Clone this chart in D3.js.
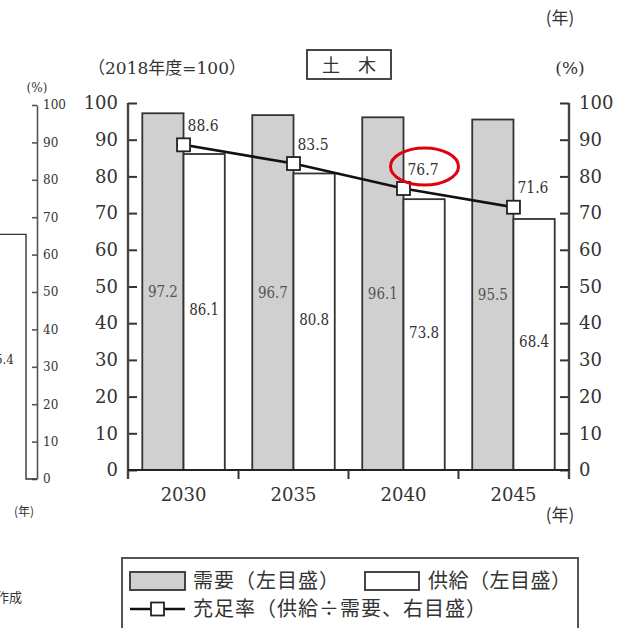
<!DOCTYPE html>
<html>
<head>
<meta charset="utf-8">
<script src="https://cdn.jsdelivr.net/npm/d3@7/dist/d3.min.js"></script>
<style>
  html, body { margin: 0; padding: 0; background: #fff; }
  svg { display: block; }
</style>
</head>
<body>
<svg id="chart" width="633" height="628"></svg>
<script>
// 土木: demand / supply index (2018年度=100) and sufficiency ratio
const years = ["2030", "2035", "2040", "2045"];
const demand = [97.2, 96.7, 96.1, 95.5];   // 需要（左目盛）
const supply = [86.1, 80.8, 73.8, 68.4];   // 供給（左目盛）
const ratio = [88.6, 83.5, 76.7, 71.6];    // 充足率（右目盛）
const yTicks = [0, 10, 20, 30, 40, 50, 60, 70, 80, 90, 100];

// neighbouring panel (only its right edge shows)
const prevPanelTicks = [0, 10, 20, 30, 40, 50, 60, 70, 80, 90, 100];
const prevPanelBar = 65.4;

const SERIF = "'DejaVu Serif', 'Liberation Serif', serif";
const JP = "'Noto Sans CJK JP', 'Noto Sans', sans-serif";
const MIX = "'DejaVu Serif', 'Noto Sans CJK JP', serif";

const svg = d3.select("#chart");
const ink = "#333";

function num(sel, size) {
  return sel.style("font-family", SERIF).style("font-size", size + "px").attr("fill", ink);
}
function jp(sel, size, fam) {
  return sel.style("font-family", fam || JP).style("font-size", size + "px").attr("fill", ink);
}

// ---------- neighbouring panel edge ----------
const yP = d3.scaleLinear().domain([0, 100]).range([479, 105]);
const pAxis = svg.append("g").attr("transform", "translate(37,0)")
  .call(d3.axisRight(yP).tickValues(prevPanelTicks).tickSizeInner(-5).tickSizeOuter(0).tickPadding(6));
pAxis.attr("font-family", null);
pAxis.select(".domain").attr("stroke", "#555").attr("stroke-width", 1.6);
pAxis.selectAll(".tick line").attr("stroke", "#555").attr("stroke-width", 1.6);
num(pAxis.selectAll("text"), 12);
svg.append("path")
  .attr("d", `M-5,${yP(prevPanelBar)}H26V${yP(0)}H37`)
  .attr("fill", "none").attr("stroke", "#333").attr("stroke-width", 1.4);
num(svg.append("text").attr("x", 14).attr("y", 364).attr("text-anchor", "end"), 12)
  .text(prevPanelBar.toFixed(1));
jp(svg.append("text").attr("x", 37).attr("y", 92).attr("text-anchor", "middle"), 12, MIX).text("(%)");
jp(svg.append("text").attr("x", 24).attr("y", 516).attr("text-anchor", "middle"), 12).text("(年)");
jp(svg.append("text").attr("x", 22).attr("y", 602).attr("text-anchor", "end"), 13).text("作成");

// ---------- main panel ----------
const x0 = 128, x1 = 569;
const x = d3.scaleBand().domain(years).range([x0, x1]).paddingInner(0.25).paddingOuter(0.13);
const xs = d3.scaleBand().domain(["demand", "supply"]).range([0, x.bandwidth()]);
const y = d3.scaleLinear().domain([0, 100]).range([470, 103]);
const yR = d3.scaleLinear().domain([0, 100]).range([470, 103]);

const rows = years.map((yr, i) => ({ yr, demand: demand[i], supply: supply[i], ratio: ratio[i] }));

// bars
const grp = svg.append("g");
rows.forEach(d => {
  grp.append("rect")
    .attr("x", x(d.yr) + xs("demand")).attr("y", y(d.demand))
    .attr("width", xs.bandwidth()).attr("height", y(0) - y(d.demand))
    .attr("fill", "#d0d0d0").attr("stroke", ink).attr("stroke-width", 1.8);
  grp.append("rect")
    .attr("x", x(d.yr) + xs("supply")).attr("y", y(d.supply))
    .attr("width", xs.bandwidth()).attr("height", y(0) - y(d.supply))
    .attr("fill", "#fff").attr("stroke", ink).attr("stroke-width", 1.8);
  num(grp.append("text")
    .attr("x", x(d.yr) + xs("demand") + xs.bandwidth() / 2)
    .attr("y", (y(d.demand) + y(0)) / 2 + 5)
    .attr("text-anchor", "middle")
    .attr("textLength", 30).attr("lengthAdjust", "spacingAndGlyphs"), 16)
    .attr("fill", "#555")
    .text(d.demand.toFixed(1));
  num(grp.append("text")
    .attr("x", x(d.yr) + xs("supply") + xs.bandwidth() / 2)
    .attr("y", (y(d.supply) + y(0)) / 2 + 3)
    .attr("text-anchor", "middle")
    .attr("textLength", 30).attr("lengthAdjust", "spacingAndGlyphs"), 16)
    .text(d.supply.toFixed(1));
});

// left axis
const lAxis = svg.append("g").attr("transform", `translate(${x0},0)`)
  .call(d3.axisLeft(y).tickValues(yTicks).tickSizeInner(-9).tickSizeOuter(0).tickPadding(10));
lAxis.attr("font-family", null);
lAxis.select(".domain").remove();
lAxis.selectAll(".tick line").attr("stroke", ink).attr("stroke-width", 2);
num(lAxis.selectAll("text"), 18);

// right axis
const rAxis = svg.append("g").attr("transform", `translate(${x1},0)`)
  .call(d3.axisRight(yR).tickValues(yTicks).tickSizeInner(-9).tickSizeOuter(0).tickPadding(10));
rAxis.attr("font-family", null);
rAxis.select(".domain").remove();
rAxis.selectAll(".tick line").attr("stroke", ink).attr("stroke-width", 2);
num(rAxis.selectAll("text"), 18);

// axis lines
svg.append("line").attr("x1", x0).attr("x2", x0).attr("y1", y(100)).attr("y2", y(0) + 9)
  .attr("stroke", "#444").attr("stroke-width", 2.4);
svg.append("line").attr("x1", x1).attr("x2", x1).attr("y1", yR(100)).attr("y2", yR(0) + 9)
  .attr("stroke", "#444").attr("stroke-width", 2.4);
svg.append("line").attr("x1", x0).attr("x2", x1).attr("y1", y(0)).attr("y2", y(0))
  .attr("stroke", "#222").attr("stroke-width", 2.2);

// category separators on the x axis
const gap = x.step() - x.bandwidth();
years.slice(0, -1).forEach(yr => {
  const sx = x(yr) + x.bandwidth() + gap / 2;
  svg.append("line").attr("x1", sx).attr("x2", sx).attr("y1", y(0)).attr("y2", y(0) + 9)
    .attr("stroke", ink).attr("stroke-width", 2);
});

// x labels
years.forEach(yr => {
  num(svg.append("text")
    .attr("x", x(yr) + x.bandwidth() / 2).attr("y", 501)
    .attr("text-anchor", "middle"), 18).text(yr);
});

// sufficiency ratio line
const cx = d => x(d.yr) + x.bandwidth() / 2;
svg.append("path").datum(rows)
  .attr("d", d3.line().x(cx).y(d => yR(d.ratio)))
  .attr("fill", "none").attr("stroke", "#111").attr("stroke-width", 2.6);
rows.forEach(d => {
  svg.append("rect")
    .attr("x", cx(d) - 6.5).attr("y", yR(d.ratio) - 6.5)
    .attr("width", 13).attr("height", 13)
    .attr("fill", "#fff").attr("stroke", "#222").attr("stroke-width", 1.8);
  num(svg.append("text")
    .attr("x", cx(d) + 4).attr("y", yR(d.ratio) - 14)
    .attr("textLength", 31).attr("lengthAdjust", "spacingAndGlyphs"), 16)
    .text(d.ratio.toFixed(1));
});

// highlight on the 2040 ratio label
const hl = rows[2];
svg.append("ellipse")
  .attr("cx", cx(hl) + 21).attr("cy", yR(hl.ratio) - 22)
  .attr("rx", 34).attr("ry", 18.5)
  .attr("fill", "none").attr("stroke", "#e0000f").attr("stroke-width", 3);

// headers
jp(svg.append("text").attr("x", 88).attr("y", 74), 17, MIX).text("（2018年度=100）");
svg.append("rect").attr("x", 307).attr("y", 50).attr("width", 84).attr("height", 29)
  .attr("fill", "#fff").attr("stroke", ink).attr("stroke-width", 1.8);
jp(svg.append("text").attr("x", 349).attr("y", 72).attr("text-anchor", "middle"), 18).text("土　木");
jp(svg.append("text").attr("x", 570).attr("y", 74).attr("text-anchor", "middle"), 17, MIX).text("(%)");
jp(svg.append("text").attr("x", 560).attr("y", 24).attr("text-anchor", "middle"), 17).text("(年)");
jp(svg.append("text").attr("x", 560).attr("y", 521).attr("text-anchor", "middle"), 17).text("(年)");

// legend
const lg = svg.append("g");
lg.append("rect").attr("x", 122).attr("y", 558).attr("width", 456).attr("height", 90)
  .attr("fill", "#fff").attr("stroke", "#555").attr("stroke-width", 2);
lg.append("rect").attr("x", 130).attr("y", 572).attr("width", 55).attr("height", 18)
  .attr("fill", "#d0d0d0").attr("stroke", ink).attr("stroke-width", 1.8);
jp(lg.append("text").attr("x", 193).attr("y", 588).style("letter-spacing", "1px"), 20).text("需要（左目盛）");
lg.append("rect").attr("x", 365).attr("y", 572).attr("width", 54).attr("height", 18)
  .attr("fill", "#fff").attr("stroke", ink).attr("stroke-width", 1.8);
jp(lg.append("text").attr("x", 428).attr("y", 588).style("letter-spacing", "0.5px"), 20).text("供給（左目盛）");
lg.append("line").attr("x1", 130).attr("x2", 185).attr("y1", 609).attr("y2", 609)
  .attr("stroke", "#111").attr("stroke-width", 2.6);
lg.append("rect").attr("x", 151).attr("y", 602.5).attr("width", 13).attr("height", 13)
  .attr("fill", "#fff").attr("stroke", "#222").attr("stroke-width", 1.8);
jp(lg.append("text").attr("x", 193).attr("y", 616).style("letter-spacing", "1px"), 20).text("充足率（供給÷需要、右目盛）");
</script>
</body>
</html>
